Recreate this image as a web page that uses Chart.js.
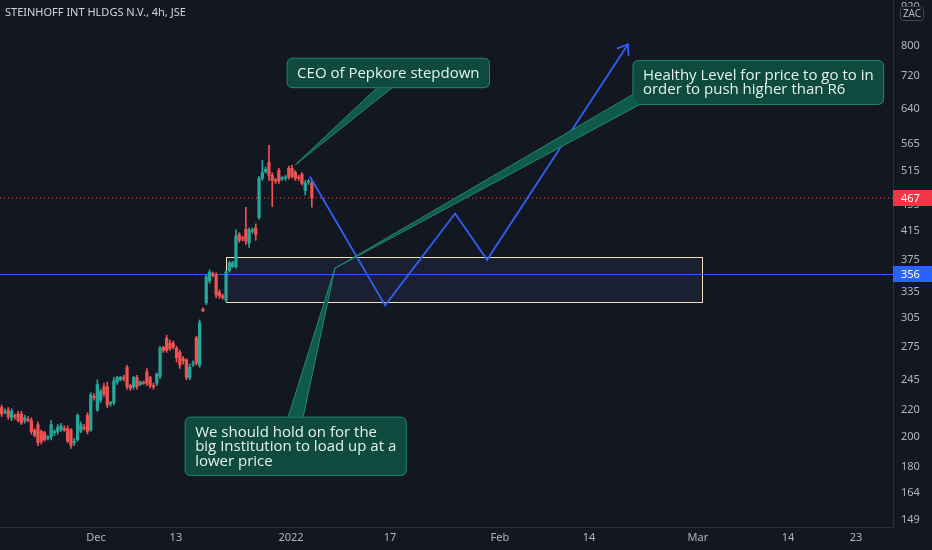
<!DOCTYPE html>
<html>
<head>
<meta charset="utf-8">
<script src="https://cdn.jsdelivr.net/npm/chart.js@4.4.1/dist/chart.umd.min.js"></script>
<style>
html, body { margin: 0; padding: 0; background: #131722; }
#wrap { width: 932px; height: 550px; }
</style>
</head>
<body>
<div id="wrap"><canvas id="chartCanvas" width="932" height="550"></canvas></div>
<script>
// 4h candles, one entry per bar (bar index = position in array)
const opens  = [222,218,220,214,216,217,217,212,213,212,205,209,204,203,199,200,203,204,205,206,
                206,205,196,198,204,207,216,205,231,220,228,239,239,225,226,243,245,247,256,240,
                239,247,241,243,252,247,240,242,248,275,284,279,279,274,270,264,263,247,259,284,
                258,315,322,348,357,355,334,330,325,361,366,366,410,405,418,398,415,420,436,501,
                513,530,506,497,515,500,501,519,519,511,503,508,480,494,492];
const highs  = [224,221,222,221,217,219,219,216,215,214,206,211,205,204,201,212,205,209,210,208,
                208,206,199,217,211,209,218,234,233,245,237,242,243,227,247,248,248,249,258,241,
                248,249,244,244,255,248,242,251,276,276,287,282,281,276,272,266,264,259,262,286,
                303,316,355,362,359,358,337,332,361,373,373,417,413,408,452,420,420,426,504,534,
                521,563,511,501,519,504,506,523,525,515,506,511,497,499,497];
const lows   = [215,217,213,212,213,211,209,210,211,202,200,194,195,197,198,198,201,202,204,204,
                196,192,194,197,203,205,202,204,228,219,226,231,222,223,224,241,244,244,237,236,
                237,237,240,241,240,238,237,240,246,270,270,272,273,261,255,259,245,245,257,258,
                256,312,320,345,353,328,327,326,323,359,365,364,399,401,396,392,412,402,433,497,
                510,497,453,492,492,497,497,499,501,497,497,489,472,490,452];
const closes = [217,219,215,219,215,212,210,214,212,204,201,196,197,198,200,209,204,207,208,205,
                197,194,197,216,209,206,204,232,230,241,235,233,224,226,244,247,247,246,239,238,
                247,239,243,242,242,240,239,250,274,272,272,274,275,265,258,262,247,256,260,260,
                300,313,353,359,355,331,330,328,359,371,371,408,402,404,401,417,417,410,501,511,
                517,506,497,496,496,502,503,503,504,501,501,492,492,496,467];

// price axis labels and time axis labels (time axis in bar units)
const yTicks = [149,164,180,200,220,245,275,305,335,375,415,455,515,565,640,720,800,920];
const xTickPos = [28.6,52.8,87.7,117.7,151.0,178.0,211.0,238.3,258.9];
const xTickLabels = ['Dec','13','2022','17','Feb','14','Mar','14','23'];

// projected path (bar, price)
const pathBars   = [93.4,116.2,137.4,147.1,189.8];
const pathPrices = [504,319,442,375,806];

// levels
const lastPrice = 467;
const supportLevel = 356;
const zoneBars   = [68.0,212.2];
const zonePrices = [322.7,378.6];

const xMin = -0.5, xMax = 270.1;
const yMin = 145.3, yMax = 943;

const notes = [
    { lines: ['CEO of Pepkore stepdown'], boxBar: 86.5, boxPrice: 767, tipBar: 88.9, tipPrice: 525,
      side: 'bottom', from: 90, to: 105 },
    { lines: ['Healthy Level for price to go to in', 'order to push higher than R6'], boxBar: 191.3, boxPrice: 761,
      tipBar: 101.0, tipPrice: 364, side: 'corner', from: 10, to: 7 },
    { lines: ['We should hold on for the', 'big Institution to load up at a', 'lower price'], boxBar: 55.6, boxPrice: 214.6,
      tipBar: 101.0, tipPrice: 364, side: 'top', from: 103, to: 118 }
];

const upColor = '#26a69a';
const downColor = '#ef5350';
const axisText = '#b2b5be';
const noteFont = '15px "Open Sans"';

const candleColors = opens.map((o, i) => closes[i] >= o ? upColor : downColor);

function roundRect(c, x, y, w, h, r) {
    c.beginPath();
    c.moveTo(x + r, y);
    c.lineTo(x + w - r, y);
    c.quadraticCurveTo(x + w, y, x + w, y + r);
    c.lineTo(x + w, y + h - r);
    c.quadraticCurveTo(x + w, y + h, x + w - r, y + h);
    c.lineTo(x + r, y + h);
    c.quadraticCurveTo(x, y + h, x, y + h - r);
    c.lineTo(x, y + r);
    c.quadraticCurveTo(x, y, x + r, y);
    c.closePath();
}

function drawNote(c, chart, n) {
    const xs = chart.scales.x, ys = chart.scales.y;
    c.font = noteFont;
    const w = Math.max(...n.lines.map(t => c.measureText(t).width)) + 20;
    const lh = 14.5;
    const h = n.lines.length * lh + 15;
    const left = xs.getPixelForValue(n.boxBar);
    const top = ys.getPixelForValue(n.boxPrice);
    const tx = xs.getPixelForValue(n.tipBar);
    const ty = ys.getPixelForValue(n.tipPrice);

    roundRect(c, left, top, w, h, 6);
    c.fillStyle = '#0e4a3e';
    c.fill();
    c.strokeStyle = '#1f8a70';
    c.lineWidth = 1;
    c.stroke();

    let b1, b2;
    if (n.side === 'bottom') { b1 = [left + n.from, top + h]; b2 = [left + n.to, top + h]; }
    else if (n.side === 'top') { b1 = [left + n.from, top]; b2 = [left + n.to, top]; }
    else { b1 = [left, top + h - n.from]; b2 = [left + n.to, top + h]; }
    c.beginPath();
    c.moveTo(b1[0], b1[1]);
    c.lineTo(tx, ty);
    c.lineTo(b2[0], b2[1]);
    c.closePath();
    c.fillStyle = '#105a4b';
    c.fill();
    c.beginPath();
    c.moveTo(b1[0], b1[1]);
    c.lineTo(tx, ty);
    c.lineTo(b2[0], b2[1]);
    c.strokeStyle = '#1f8a70';
    c.stroke();

    c.fillStyle = '#e6f2ee';
    c.textAlign = 'left';
    c.textBaseline = 'middle';
    n.lines.forEach((t, i) => c.fillText(t, left + 10, top + 7.5 + lh / 2 + i * lh + 0.5));
}

const drawings = {
    id: 'drawings',
    beforeDraw(chart) {
        const c = chart.ctx;
        c.save();
        c.fillStyle = '#131722';
        c.fillRect(0, 0, chart.width, chart.height);
        c.restore();
    },
    beforeDatasetsDraw(chart) {
        const c = chart.ctx, xs = chart.scales.x, ys = chart.scales.y;
        const x0 = xs.getPixelForValue(zoneBars[0]), x1 = xs.getPixelForValue(zoneBars[1]);
        const y0 = ys.getPixelForValue(zonePrices[1]), y1 = ys.getPixelForValue(zonePrices[0]);
        c.save();
        c.fillStyle = 'rgba(60,70,130,0.18)';
        c.fillRect(x0, y0, x1 - x0, y1 - y0);
        c.strokeStyle = '#f3dfba';
        c.lineWidth = 1;
        c.strokeRect(Math.round(x0) + 0.5, Math.round(y0) + 0.5, Math.round(x1 - x0), Math.round(y1 - y0));
        c.restore();
    },
    afterDatasetsDraw(chart) {
        const c = chart.ctx, xs = chart.scales.x, ys = chart.scales.y;
        c.save();
        // arrow head on the projected path
        const n = pathBars.length;
        const ax = xs.getPixelForValue(pathBars[n - 1]), ay = ys.getPixelForValue(pathPrices[n - 1]);
        const bx = xs.getPixelForValue(pathBars[n - 2]), by = ys.getPixelForValue(pathPrices[n - 2]);
        const ang = Math.atan2(by - ay, bx - ax);
        c.strokeStyle = '#2f5ff5';
        c.lineWidth = 1.8;
        c.beginPath();
        c.moveTo(ax + 12 * Math.cos(ang + 0.62), ay + 12 * Math.sin(ang + 0.62));
        c.lineTo(ax, ay);
        c.lineTo(ax + 12 * Math.cos(ang - 0.62), ay + 12 * Math.sin(ang - 0.62));
        c.stroke();
        notes.forEach(nt => drawNote(c, chart, nt));
        c.restore();
    },
    afterDraw(chart) {
        const c = chart.ctx, ys = chart.scales.y, area = chart.chartArea;
        c.save();
        c.font = '11px "Noto Sans"';
        c.textBaseline = 'middle';
        c.textAlign = 'left';
        [[lastPrice, '#f23645'], [supportLevel, '#2962ff']].forEach(([v, col]) => {
            const y = ys.getPixelForValue(v);
            c.fillStyle = col;
            c.fillRect(area.right, Math.round(y) - 8, chart.width - area.right, 16);
            c.fillStyle = '#ffffff';
            c.fillText(String(v), area.right + 8, Math.round(y) + 0.5);
        });
        // currency tag
        c.fillStyle = '#131722';
        roundRect(c, 900.5, 6.5, 23, 14, 3);
        c.fill();
        c.strokeStyle = '#434651';
        c.stroke();
        c.fillStyle = axisText;
        c.font = '10px "Noto Sans"';
        c.textAlign = 'center';
        c.fillText('ZAC', 912, 14);
        // symbol title
        c.textAlign = 'left';
        c.font = '11px "Noto Sans"';
        c.fillStyle = '#d1d4dc';
        c.fillText('STEINHOFF INT HLDGS N.V., 4h, JSE', 5, 13);
        c.restore();
    }
};

const ctx = document.getElementById('chartCanvas').getContext('2d');
const chartInstance = new Chart(ctx, {
    data: {
        datasets: [
            {
                type: 'bar',
                label: 'wick',
                data: opens.map((o, i) => ({ x: i, y: [lows[i], highs[i]] })),
                backgroundColor: candleColors,
                barThickness: 1,
                grouped: false,
                order: 3
            },
            {
                type: 'bar',
                label: 'body',
                data: opens.map((o, i) => ({ x: i, y: [o, closes[i]] })),
                backgroundColor: candleColors,
                barThickness: 2.6,
                minBarLength: 1,
                grouped: false,
                order: 2
            },
            {
                type: 'line',
                label: 'support',
                data: [{ x: xMin, y: supportLevel }, { x: xMax, y: supportLevel }],
                borderColor: '#2962ff',
                borderWidth: 1,
                pointRadius: 0,
                order: 4
            },
            {
                type: 'line',
                label: 'last',
                data: [{ x: xMin, y: lastPrice }, { x: xMax, y: lastPrice }],
                borderColor: '#ef5350',
                borderWidth: 1,
                borderDash: [1, 3],
                pointRadius: 0,
                order: 4
            },
            {
                type: 'line',
                label: 'path',
                data: pathBars.map((b, i) => ({ x: b, y: pathPrices[i] })),
                borderColor: '#2f5ff5',
                borderWidth: 1.8,
                pointRadius: 0,
                tension: 0,
                order: 1
            }
        ]
    },
    options: {
        responsive: false,
        animation: false,
        devicePixelRatio: 1,
        layout: { padding: 0 },
        plugins: {
            legend: { display: false },
            tooltip: { enabled: false }
        },
        scales: {
            x: {
                type: 'linear',
                min: xMin,
                max: xMax,
                offset: false,
                grid: { display: false, drawTicks: false },
                border: { display: true, color: '#2a2e39' },
                ticks: {
                    color: axisText,
                    font: { family: 'Noto Sans', size: 11 },
                    padding: 4,
                    autoSkip: false,
                    maxRotation: 0,
                    callback: (v, i) => xTickLabels[i]
                },
                afterBuildTicks: s => { s.ticks = xTickPos.map(v => ({ value: v })); },
                afterFit: s => { s.height = 23; s.paddingLeft = 0; s.paddingRight = 0; }
            },
            y: {
                type: 'logarithmic',
                position: 'right',
                min: yMin,
                max: yMax,
                grid: { display: false, drawTicks: false },
                border: { display: true, color: '#2a2e39' },
                ticks: {
                    color: axisText,
                    font: { family: 'Noto Sans', size: 11 },
                    padding: 8,
                    autoSkip: false,
                    crossAlign: 'near',
                    callback: v => String(v)
                },
                afterBuildTicks: s => { s.ticks = yTicks.map(v => ({ value: v })); },
                afterFit: s => { s.width = 39; s.paddingTop = 0; s.paddingBottom = 0; }
            }
        }
    },
    plugins: [drawings]
});
</script>
</body>
</html>
